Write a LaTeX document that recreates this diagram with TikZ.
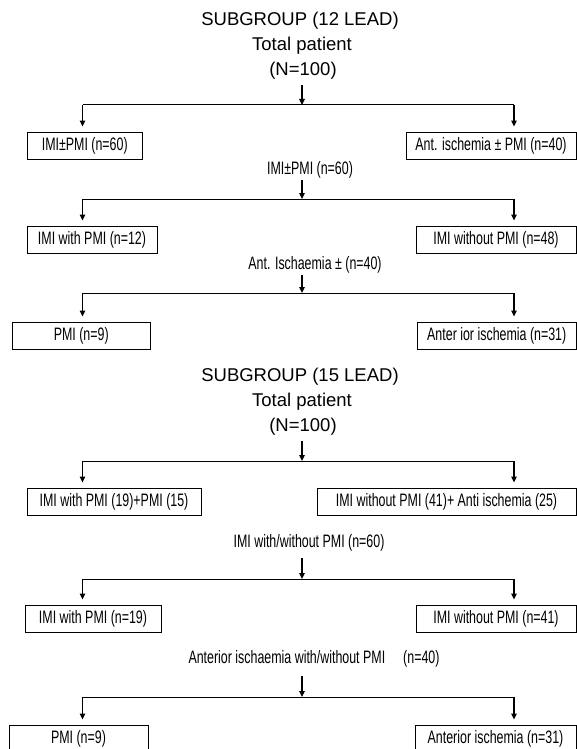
\documentclass[tikz,border=0pt]{standalone}
\usepackage{fontspec}
\setmainfont{Liberation Sans}
\newfontfamily\narrowsans[FakeStretch=0.69]{Liberation Sans}
\usetikzlibrary{arrows.meta, positioning}

\begin{document}
\begin{tikzpicture}
	[x=1pt, y=-1pt,
	heading/.style={inner sep=0pt, font=\fontsize{18.5}{22}\selectfont},
	caption/.style={inner sep=0pt, font=\narrowsans\fontsize{18}{20}\selectfont},
	group/.style={caption, draw, line width=0.9pt, minimum height=27pt},
	split/.style={line width=1pt},
	down/.style={line width=1.3pt, -{Triangle[length=6pt, width=5.5pt]}},
	side/.style={down, shorten >=5pt}]
	\clip (0,0) rectangle (577,749);

	% 12 lead
	\node[heading] (title12) at (300,21) {SUBGROUP (12 LEAD)};
	\node[heading] (total12) at (302,46) {Total patient};
	\node[heading] (count12) at (303,71) {(N=100)};

	\node[group, minimum width=114.5pt] (imipmi) at (84.75,145.5) {IMI±PMI (n=60)};
	\node[group, minimum width=170pt] (antpmi) at (491,145.5) {Ant. ischemia ± PMI (n=40)};

	\node[caption] (imilabel) at (310,170) {IMI±PMI (n=60)};
	\node[group, minimum width=130pt] (imiwith) at (92,239.5) {IMI with PMI (n=12)};
	\node[group, minimum width=160pt] (imiwithout) at (496,239.5) {IMI without PMI (n=48)};

	\node[caption] (antlabel) at (315,265) {Ant. Ischaemia ± (n=40)};
	\node[group, minimum width=137.5pt] (pmi) at (81.25,335.5) {PMI (n=9)};
	\node[group, minimum width=158.5pt] (antisch) at (496.75,335.5) {Anter ior ischemia (n=31)};

	\coordinate (top1) at (302,85);   \coordinate (mid1) at (302,105);
	\coordinate (left1) at (82.5,105); \coordinate (right1) at (514,105);
	\coordinate (top2) at (302,180);  \coordinate (mid2) at (302,199);
	\coordinate (left2) at (82.5,199); \coordinate (right2) at (514,199);
	\coordinate (top3) at (302,275);  \coordinate (mid3) at (302,293);
	\coordinate (left3) at (82.5,293); \coordinate (right3) at (514,293);

	\draw[down] (top1) -- (mid1);
	\draw[split] (left1) -- (right1);
	\draw[side] (left1) -- (left1 |- imipmi.north);
	\draw[side] (right1) -- (right1 |- antpmi.north);

	\draw[down] (top2) -- (mid2);
	\draw[split] (left2) -- (right2);
	\draw[side] (left2) -- (left2 |- imiwith.north);
	\draw[side] (right2) -- (right2 |- imiwithout.north);

	\draw[down] (top3) -- (mid3);
	\draw[split] (left3) -- (right3);
	\draw[side] (left3) -- (left3 |- pmi.north);
	\draw[side] (right3) -- (right3 |- antisch.north);

	% 15 lead
	\node[heading] (title15) at (300,377) {SUBGROUP (15 LEAD)};
	\node[heading] (total15) at (302,402) {Total patient};
	\node[heading] (count15) at (303,427) {(N=100)};

	\node[group, minimum width=174pt] (withsum) at (114,501.5) {IMI with PMI (19)+PMI (15)};
	\node[group, minimum width=259pt] (withoutsum) at (446.5,501.5) {IMI without PMI (41)+ Anti ischemia (25)};

	\node[caption] (imilabel15) at (309,543) {IMI with/without PMI (n=60)};
	\node[group, minimum width=136pt] (imiwith15) at (93,618.5) {IMI with PMI (n=19)};
	\node[group, minimum width=160pt] (imiwithout15) at (496,618.5) {IMI without PMI (n=41)};

	\node[caption] (antlabel15) at (314,659) {Anterior ischaemia with/without PMI\hspace{18pt}(n=40)};
	\node[group, minimum width=139pt] (pmi15) at (78.5,738.5) {PMI (n=9)};
	\node[group, minimum width=161pt] (antisch15) at (495.5,738.5) {Anterior ischemia (n=31)};

	\coordinate (top4) at (302,441);  \coordinate (mid4) at (302,461);
	\coordinate (left4) at (82.5,461); \coordinate (right4) at (514,461);
	\coordinate (top5) at (302,558);  \coordinate (mid5) at (302,579);
	\coordinate (left5) at (82.5,579); \coordinate (right5) at (514,579);
	\coordinate (top6) at (302,676);  \coordinate (mid6) at (302,697);
	\coordinate (left6) at (82.5,697); \coordinate (right6) at (514,697);

	\draw[down] (top4) -- (mid4);
	\draw[split] (left4) -- (right4);
	\draw[side] (left4) -- (left4 |- withsum.north);
	\draw[side] (right4) -- (right4 |- withoutsum.north);

	\draw[down] (top5) -- (mid5);
	\draw[split] (left5) -- (right5);
	\draw[side] (left5) -- (left5 |- imiwith15.north);
	\draw[side] (right5) -- (right5 |- imiwithout15.north);

	\draw[down] (top6) -- (mid6);
	\draw[split] (left6) -- (right6);
	\draw[side] (left6) -- (left6 |- pmi15.north);
	\draw[side] (right6) -- (right6 |- antisch15.north);
\end{tikzpicture}
\end{document}
